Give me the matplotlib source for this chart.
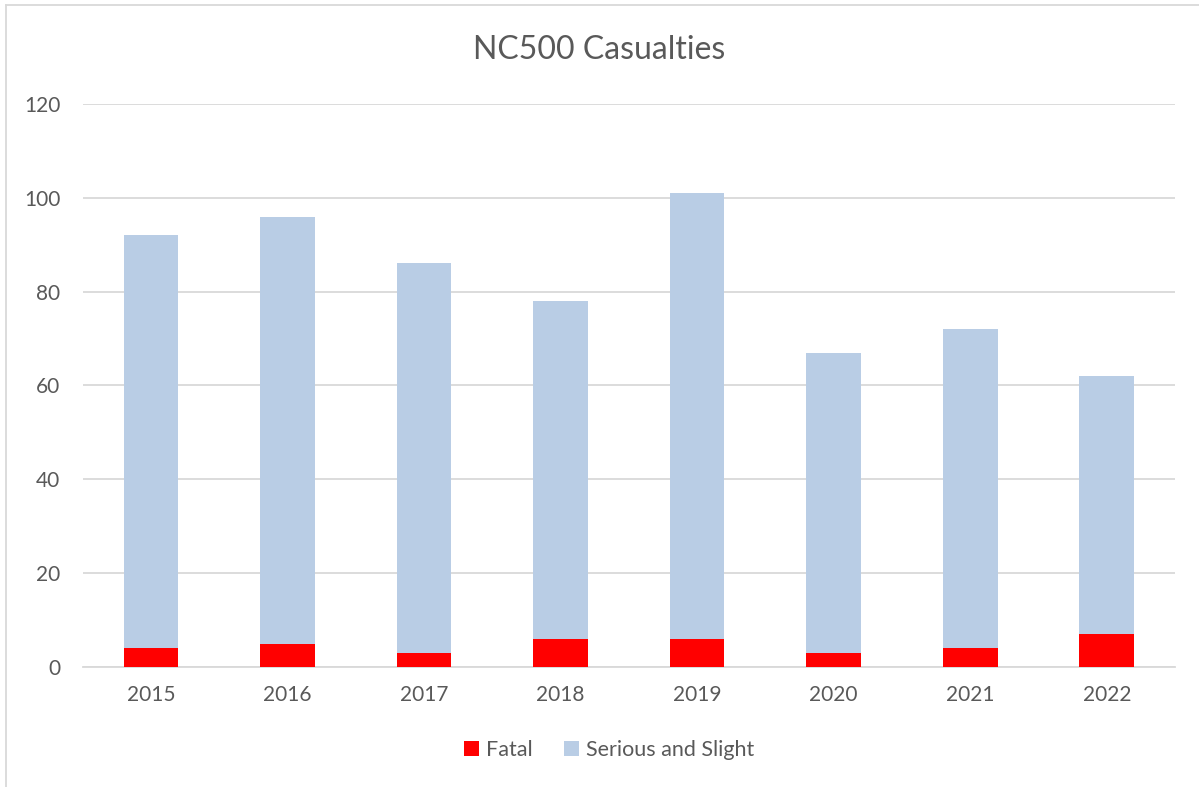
import matplotlib
matplotlib.use('Agg')
from matplotlib import pyplot as plt
from matplotlib.lines import Line2D
import numpy as np

years = ['2015', '2016', '2017', '2018', '2019', '2020', '2021', '2022']
fatal = [4, 5, 3, 6, 6, 3, 4, 7]
serious_and_slight = [88, 91, 83, 72, 95, 64, 68, 55]
y_ticks = [0, 20, 40, 60, 80, 100, 120]

plt.rcParams['font.family'] = ['Lato', 'DejaVu Sans']
text_color = '#595959'
grid_color = '#d9d9d9'

fig = plt.figure(figsize=(11.99, 7.87), dpi=100)
ax = fig.add_axes([0.069, 0.1525, 0.911, 0.7154])

x = np.arange(len(years))
ax.bar(x, fatal, width=0.4, color='#ff0000', label='Fatal', zorder=3)
ax.bar(x, serious_and_slight, width=0.4, bottom=fatal, color='#b9cde5',
       label='Serious and Slight', zorder=3)

ax.set_xlim(-0.5, len(years) - 0.5)
ax.set_ylim(0, 120)
ax.set_yticks(y_ticks)
ax.set_xticks(x)
ax.set_xticklabels(years)
ax.tick_params(length=0, labelsize=15, colors=text_color)
ax.tick_params(axis='y', pad=16)
ax.tick_params(axis='x', pad=13)
ax.grid(axis='y', color=grid_color, linewidth=1.3, zorder=0)
for side in ['left', 'right', 'top']:
    ax.spines[side].set_visible(False)
ax.spines['bottom'].set_color(grid_color)
ax.spines['bottom'].set_linewidth(1.3)

fig.suptitle('NC500 Casualties', y=0.955, fontsize=23, color=text_color)

leg = fig.legend(loc='center', bbox_to_anchor=(0.508, 0.047), ncol=2, frameon=False,
                 fontsize=15.5, handlelength=0.7, handleheight=0.7, columnspacing=1.5,
                 handletextpad=0.3)
for t in leg.get_texts():
    t.set_color(text_color)

# outer chart border (left and top only visible)
fig.add_artist(Line2D([0.005, 0.005], [0, 0.994], color=grid_color, linewidth=1.3,
                      transform=fig.transFigure))
fig.add_artist(Line2D([0.005, 1.0], [0.994, 0.994], color=grid_color, linewidth=1.3,
                      transform=fig.transFigure))

fig.savefig('out.png', dpi=100)
